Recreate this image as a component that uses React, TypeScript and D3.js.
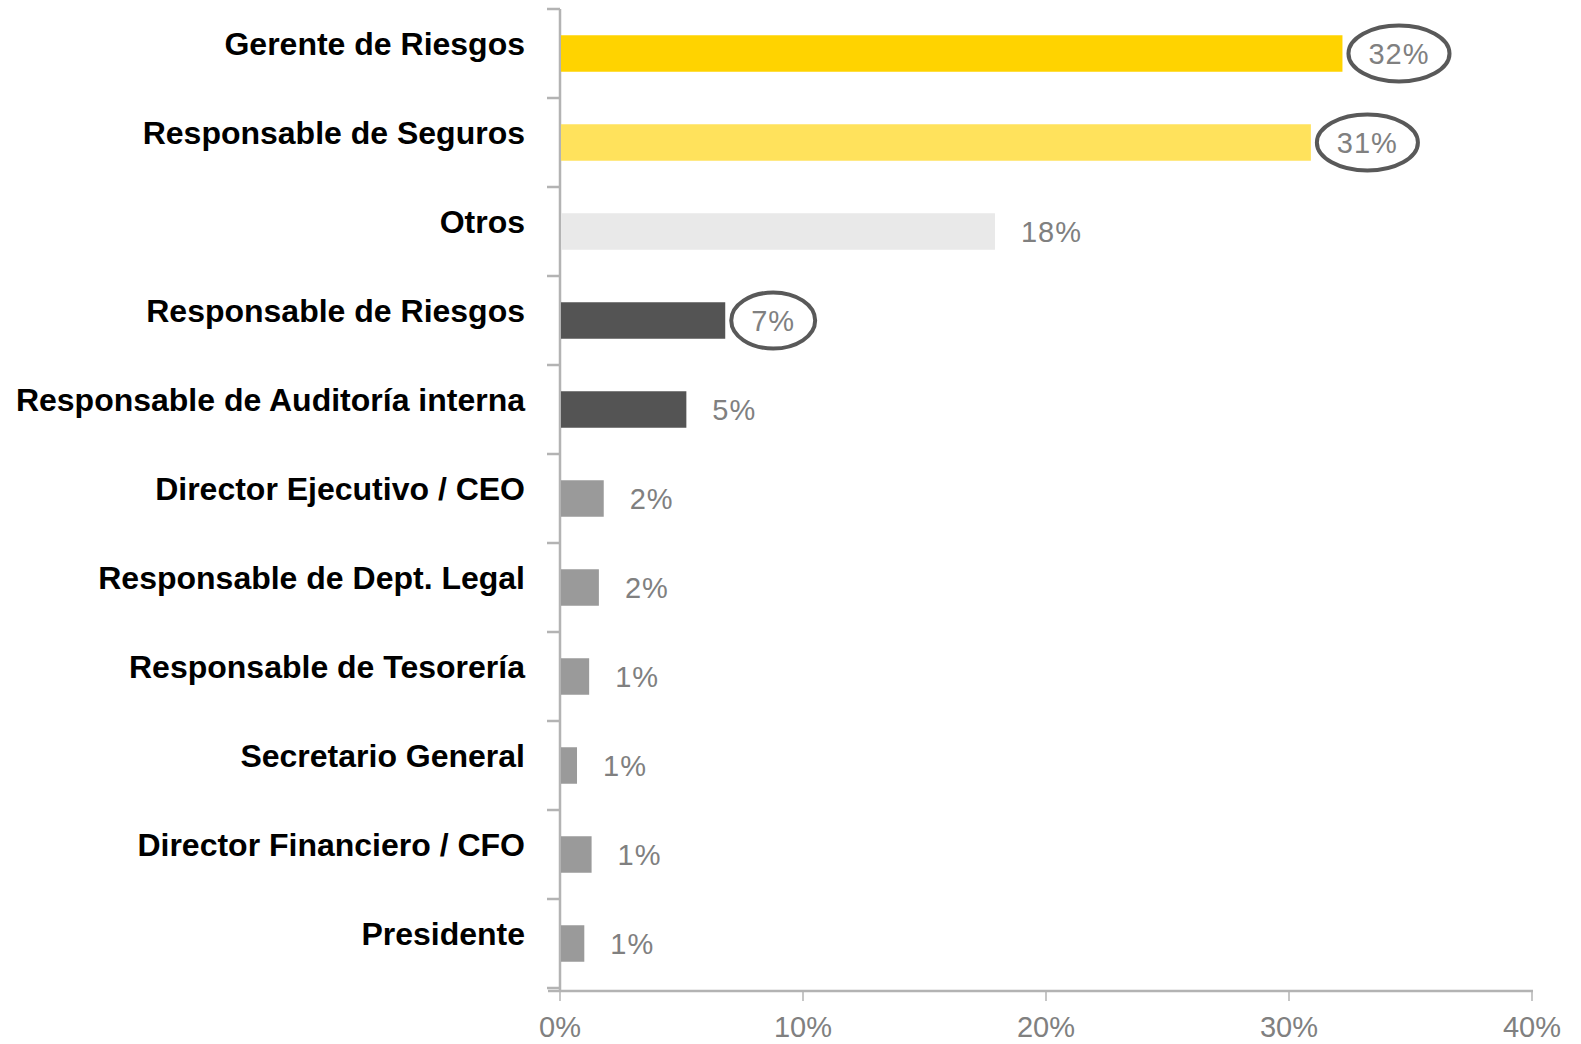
import { useEffect, useRef } from "react";
import * as d3 from "d3";

const categories = [
  "Gerente de Riesgos",
  "Responsable de Seguros",
  "Otros",
  "Responsable de Riesgos",
  "Responsable de Auditoría interna",
  "Director Ejecutivo / CEO",
  "Responsable de Dept. Legal",
  "Responsable de Tesorería",
  "Secretario General",
  "Director Financiero / CFO",
  "Presidente",
];
const values = [32.2, 30.9, 17.9, 6.8, 5.2, 1.8, 1.6, 1.2, 0.7, 1.3, 1.0];
const valueLabels = ["32%", "31%", "18%", "7%", "5%", "2%", "2%", "1%", "1%", "1%", "1%"];
const highlighted = ["Gerente de Riesgos", "Responsable de Seguros", "Responsable de Riesgos"];
const barColors = [
  "#FFD300",
  "#FFE25C",
  "#E9E9E9",
  "#545454",
  "#545454",
  "#9A9A9A",
  "#9A9A9A",
  "#9A9A9A",
  "#9A9A9A",
  "#9A9A9A",
  "#9A9A9A",
];
const xTicks = [0, 10, 20, 30, 40];

const W = 1581;
const H = 1044;
const FONT = "'Liberation Sans', Arial, sans-serif";

export default function App() {
  const svgRef = useRef<SVGSVGElement | null>(null);

  useEffect(() => {
    if (!svgRef.current) return;
    const svg = d3.select(svgRef.current);
    svg.selectAll("*").remove();

    const x = d3.scaleLinear().domain([0, 40]).range([560, 1532]);
    const y = d3
      .scaleBand<string>()
      .domain(categories)
      .range([9, 988])
      .paddingInner(0.59)
      .paddingOuter(0.295);
    const step = y.step();
    const axisColor = "#b3b3b3";

    // y axis line + ticks at band boundaries
    svg
      .append("line")
      .attr("x1", x(0))
      .attr("x2", x(0))
      .attr("y1", 9)
      .attr("y2", 991)
      .attr("stroke", axisColor)
      .attr("stroke-width", 2.5);
    d3.range(categories.length + 1).forEach((i) => {
      const yy = 9 + i * step;
      svg
        .append("line")
        .attr("x1", x(0) - 13)
        .attr("x2", x(0))
        .attr("y1", yy)
        .attr("y2", yy)
        .attr("stroke", axisColor)
        .attr("stroke-width", 2.5);
    });

    // x axis
    svg
      .append("line")
      .attr("x1", 548)
      .attr("x2", x(40) + 1)
      .attr("y1", 991)
      .attr("y2", 991)
      .attr("stroke", axisColor)
      .attr("stroke-width", 2.5);
    xTicks.forEach((t) => {
      svg
        .append("line")
        .attr("x1", x(t))
        .attr("x2", x(t))
        .attr("y1", 991)
        .attr("y2", 1001)
        .attr("stroke", axisColor)
        .attr("stroke-width", 1.5);
      svg
        .append("text")
        .attr("x", x(t))
        .attr("y", 1037)
        .attr("text-anchor", "middle")
        .attr("font-family", FONT)
        .attr("font-size", 29)
        .attr("fill", "#808080")
        .text(`${t}%`);
    });

    // bars
    categories.forEach((c, i) => {
      const top = y(c)!;
      const cy = top + y.bandwidth() / 2;
      const end = x(values[i]);
      svg
        .append("rect")
        .attr("x", x(0) + 1)
        .attr("y", top)
        .attr("width", end - x(0) - 1)
        .attr("height", y.bandwidth())
        .attr("fill", barColors[i]);

      svg
        .append("text")
        .attr("x", 525)
        .attr("y", cy - 10)
        .attr("dy", "0.35em")
        .attr("text-anchor", "end")
        .attr("font-family", FONT)
        .attr("font-weight", "bold")
        .attr("font-size", 32)
        .attr("fill", "#000")
        .text(c);

      const label = svg
        .append("text")
        .attr("x", end + 26)
        .attr("y", cy)
        .attr("dy", "0.35em")
        .attr("font-family", FONT)
        .attr("font-size", 29)
        .attr("letter-spacing", 1)
        .attr("fill", "#808080")
        .text(valueLabels[i]);

      if (highlighted.includes(c)) {
        const tw = (label.node() as SVGTextElement).getComputedTextLength();
        svg
          .append("ellipse")
          .attr("cx", end + 26 + tw / 2)
          .attr("cy", cy)
          .attr("rx", tw / 2 + 20)
          .attr("ry", 28)
          .attr("fill", "none")
          .attr("stroke", "#595959")
          .attr("stroke-width", 4);
      }
    });
  }, []);

  return (
    <svg
      ref={svgRef}
      width={W}
      height={H}
      style={{ position: "absolute", left: 0, top: 0, background: "#fff" }}
    />
  );
}
